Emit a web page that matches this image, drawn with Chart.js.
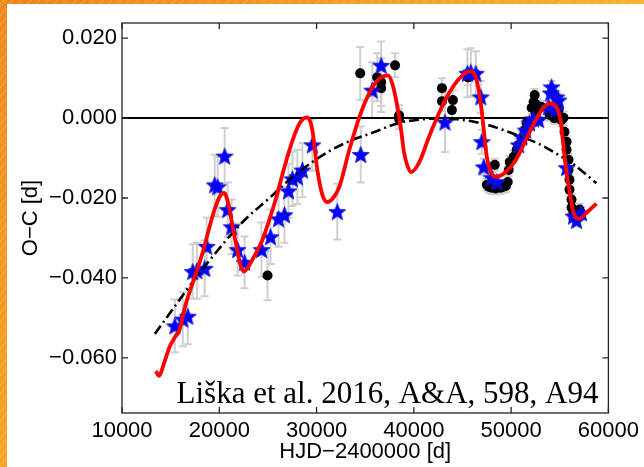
<!DOCTYPE html>
<html>
<head>
<meta charset="utf-8">
<script src="https://cdn.jsdelivr.net/npm/chart.js@4.4.1/dist/chart.umd.min.js"></script>
<style>
  html, body { margin: 0; padding: 0; background: #fff; }
  canvas { display: block; }
</style>
</head>
<body>
<canvas id="c" width="644" height="467"></canvas>
<script>
// ---------- data ----------
const xTickValues = [10000, 20000, 30000, 40000, 50000, 60000];
const xTickLabels = ['10000', '20000', '30000', '40000', '50000', '60000'];
const yTickValues = [-0.06, -0.04, -0.02, 0.0, 0.02];
const yTickLabels = ['\u22120.060', '\u22120.040', '\u22120.020', '0.000', '0.020'];

// blue stars (x, y, error)
const starX = [15430, 16250, 16760, 17270, 17700, 18500, 18710, 19530, 19840, 20553, 20860, 21270, 21885, 22600,
  24340, 25270, 26090, 26700, 27110, 27520, 28030, 28545, 29570, 32130, 34540, 35720, 36640, 43200,
  45500, 45860, 46370, 46880, 46990, 47190, 48010, 48520, 50780, 51090, 51500, 51900, 52300, 52830, 53850, 54060, 54160,
  54570, 54670, 54870, 55700, 56410, 56720, 57230];
const starY = [-0.0520, -0.0503, -0.0496, -0.0384, -0.0382, -0.0376, -0.0321, -0.0167, -0.0172, -0.0095, -0.0229, -0.0272, -0.0329, -0.0361,
  -0.0329, -0.0297, -0.0252, -0.0242, -0.0182, -0.0152, -0.0147, -0.0130, -0.0067, -0.0234, -0.0091, 0.0070, 0.0132, -0.0010,
  0.0112, 0.0115, 0.0112, 0.0053, -0.0059, -0.0122, -0.0149, -0.0159, -0.0067, -0.0047, -0.0030, -0.0012, -0.0002, -0.0004, 0.0028, 0.0063, 0.0078,
  0.0021, 0.0053, 0.0045, -0.0124, -0.0245, -0.0256, -0.0237];
const starErr = [0.0066, 0.0068, 0.0070, 0.0068, 0.0070, 0.0070, 0.0072, 0.0075, 0.0075, 0.0070, 0.0068, 0.0068, 0.0065, 0.0065,
  0.0068, 0.0068, 0.0070, 0.0070, 0.0068, 0.0068, 0.0068, 0.0068, 0.0065, 0.0070, 0.0070, 0.0070, 0.0060, 0.0075,
  0.0060, 0.0060, 0.0055, 0.0040, 0.0030, 0.0020, 0.0015, 0.0015, 0.0015, 0.0015, 0.0015, 0.0015, 0.0015, 0.0015, 0.0015, 0.0015, 0.0015,
  0.0015, 0.0015, 0.0015, 0.0015, 0.0015, 0.0015, 0.0015];

// black dots (x, y, error)
const dotX = [24960, 34490, 36230, 36640, 36640, 38070, 38480, 38480, 42890, 42890, 44020, 43910, 45560,
  47500, 47700, 48000, 48320, 48420, 48700, 48930, 49200, 49450, 49650, 49750, 49860, 50270, 50570, 50780, 51090, 51390, 51600,
  52110, 52320, 52420, 52620, 52520, 53130, 53950, 54360, 54460, 54880, 55180,
  55390, 55490, 55700, 55700, 55900, 55900, 56000, 56000, 56210, 56210, 56410, 56720, 57030, 57130];
const dotY = [-0.0394, 0.0112, 0.0102, 0.0090, 0.0075, 0.0132, 0.0007, -0.0002, 0.0075, 0.0042, 0.0045, 0.0020, 0.0102,
  -0.0167, -0.0172, -0.0174, -0.0117, -0.0176, -0.0173, -0.0174, -0.0172, -0.0170, -0.0160, -0.0130, -0.0110, -0.0097, -0.0080, -0.0067, -0.0050, -0.0030, -0.0012,
  0.0026, 0.0041, 0.0058, 0.0033, 0.0010, 0.0028, 0.0008, 0.0003, 0.0000, 0.0020, -0.0005,
  0.0001, -0.0034, -0.0059, -0.0079, -0.0104, -0.0129, -0.0154, -0.0179, -0.0204, -0.0224, -0.0237, -0.0237, -0.0229, -0.0237];
const dotErr = [0.0062, 0.0066, 0.0060, 0.0060, 0.0060, 0.0030, 0.0025, 0.0025, 0.0025, 0.0025, 0.0025, 0.0025, 0.0020,
  0.0015, 0.0015, 0.0015, 0.0015, 0.0015, 0.0015, 0.0015, 0.0015, 0.0015, 0.0015, 0.0015, 0.0015, 0.0015, 0.0015, 0.0015, 0.0015, 0.0015, 0.0015,
  0.0015, 0.0015, 0.0015, 0.0015, 0.0015, 0.0015, 0.0015, 0.0015, 0.0015, 0.0015, 0.0015,
  0.0015, 0.0015, 0.0015, 0.0015, 0.0015, 0.0015, 0.0015, 0.0015, 0.0015, 0.0015, 0.0015, 0.0015, 0.0015, 0.0015];

// red fitted curve
const fitX = [13480, 13800, 14300, 14900, 15400, 15940, 16500, 17000, 17500, 17990, 18500, 19020, 19500, 20040, 20500,
  20900, 21400, 21800, 22150, 22500, 22900, 23500, 24450, 25200, 25880, 26500, 27210, 27930, 28500, 29060,
  29570, 30080, 30600, 31100, 31700, 32340, 33360, 34390, 35410, 36430, 37360, 37800, 38180, 38690, 39000,
  39350, 39710, 40530, 41560, 42580, 43610, 44630, 45760, 46370, 46880, 47190, 47500, 47910, 48420, 49450,
  50470, 51500, 52520, 53340, 54060, 54670, 55080, 55390, 55700, 56100, 56410, 56930, 57750, 58770];
const fitY = [-0.0633, -0.0645, -0.0615, -0.0572, -0.0550, -0.0528, -0.0470, -0.0432, -0.0395, -0.0360, -0.0318, -0.0270, -0.0230, -0.0197, -0.0187,
  -0.0212, -0.0275, -0.0325, -0.0365, -0.0384, -0.0375, -0.0350, -0.0304, -0.0250, -0.0197, -0.0140, -0.0080, -0.0030, -0.0005, 0.0002,
  -0.0030, -0.0130, -0.0192, -0.0210, -0.0200, -0.0172, -0.0080, 0.0002, 0.0062, 0.0098, 0.0107, 0.0085, 0.0045, -0.0030, -0.0087,
  -0.0120, -0.0135, -0.0112, -0.0047, 0.0012, 0.0062, 0.0098, 0.0117, 0.0102, 0.0037, -0.0030, -0.0097, -0.0135, -0.0147, -0.0135,
  -0.0105, -0.0055, -0.0005, 0.0027, 0.0037, 0.0027, -0.0005, -0.0072, -0.0137, -0.0197, -0.0237, -0.0252, -0.0237, -0.0214];

// black dash-dot curve
const quadX = [13380, 16970, 19700, 22400, 25160, 27500, 29570, 31500, 33360, 35720, 38480, 40500, 42580, 44500,
  45960, 47700, 49450, 51200, 52830, 54600, 56210, 57500, 58770];
const quadY = [-0.0540, -0.0420, -0.0335, -0.0260, -0.0200, -0.0148, -0.0110, -0.0080, -0.0058, -0.0037, -0.0012, -0.0004, -0.0001, -0.0003,
  -0.0008, -0.0018, -0.0032, -0.0048, -0.0064, -0.0088, -0.0112, -0.0137, -0.0163];

// horizontal zero line
const zeroX = [10000, 60000];
const zeroY = [0, 0];

const noteText = 'Liška et al. 2016, A&A, 598, A94';
const xTitle = 'HJD\u22122400000 [d]';
const yTitle = 'O\u2212C [d]';

// ---------- helpers ----------
const pts = (xs, ys) => xs.map((x, i) => ({ x: x, y: ys[i] }));

function makeStar(r, ir, fill, stroke) {
  const s = Math.ceil(2 * r + 3);
  const c = document.createElement('canvas');
  c.width = s; c.height = s;
  const g = c.getContext('2d');
  const cx = s / 2, cy = s / 2 + r * 0.1;
  g.beginPath();
  for (let i = 0; i < 10; i++) {
    const a = -Math.PI / 2 + i * Math.PI / 5;
    const rad = (i % 2 === 0) ? r : ir;
    const px = cx + rad * Math.cos(a), py = cy + rad * Math.sin(a);
    if (i === 0) g.moveTo(px, py); else g.lineTo(px, py);
  }
  g.closePath();
  g.fillStyle = fill; g.fill();
  g.lineWidth = 0.8; g.strokeStyle = stroke; g.stroke();
  return c;
}
const starImg = makeStar(9, 3.9, '#0000FF', '#1a1acc');

const FONT = '"Liberation Sans", Arial, Helvetica, sans-serif';

// ---------- plugins ----------
const framePlugin = {
  id: 'frame',
  beforeDraw(chart) {
    const ctx = chart.ctx, W = chart.width, H = chart.height;
    ctx.save();
    ctx.fillStyle = '#ffffff';
    ctx.fillRect(0, 0, W, H);
    // orange slide border (top and left)
    let g = ctx.createLinearGradient(0, 0, W, 0);
    g.addColorStop(0, '#EE8420'); g.addColorStop(1, '#F6B42C');
    ctx.fillStyle = g;
    ctx.fillRect(0, 0, W, 4);
    g = ctx.createLinearGradient(0, 0, 0, H);
    g.addColorStop(0, '#EF8A20'); g.addColorStop(1, '#F4A526');
    ctx.fillStyle = g;
    ctx.fillRect(0, 0, 7, H);
    ctx.strokeStyle = 'rgba(255,220,150,0.45)';
    ctx.lineWidth = 0.7;
    ctx.beginPath();
    for (let y = -10; y < H; y += 9) { ctx.moveTo(0, y + 8); ctx.lineTo(7, y); }
    for (let x = 0; x < W; x += 9) { ctx.moveTo(x, 4); ctx.lineTo(x + 4, 0); }
    ctx.stroke();
    ctx.restore();
  },
  beforeDatasetsDraw(chart) {
    const ctx = chart.ctx, xs = chart.scales.x, ys = chart.scales.y, a = chart.chartArea;
    ctx.save();
    ctx.beginPath(); ctx.rect(a.left, a.top, a.right - a.left, a.bottom - a.top); ctx.clip();
    ctx.strokeStyle = '#CFCFCF';
    ctx.lineWidth = 2;
    const drawBars = (X, Y, E) => {
      X.forEach((x, i) => {
        const px = xs.getPixelForValue(x);
        const p1 = ys.getPixelForValue(Y[i] + E[i]);
        const p2 = ys.getPixelForValue(Y[i] - E[i]);
        ctx.beginPath();
        ctx.moveTo(px, p1); ctx.lineTo(px, p2);
        ctx.moveTo(px - 4, p1); ctx.lineTo(px + 4, p1);
        ctx.moveTo(px - 4, p2); ctx.lineTo(px + 4, p2);
        ctx.stroke();
      });
    };
    drawBars(dotX, dotY, dotErr);
    drawBars(starX, starY, starErr);
    ctx.restore();
  },
  afterDraw(chart) {
    const ctx = chart.ctx, xs = chart.scales.x, ys = chart.scales.y, a = chart.chartArea;
    ctx.save();
    // annotation text
    ctx.fillStyle = '#000';
    ctx.font = '31px "Liberation Serif", "Times New Roman", serif';
    ctx.textAlign = 'right';
    ctx.textBaseline = 'alphabetic';
    ctx.fillText(noteText, a.right - 10, a.bottom - 10);
    // box and inward ticks
    ctx.strokeStyle = '#262626';
    ctx.lineWidth = 1.3;
    ctx.strokeRect(a.left, a.top, a.right - a.left, a.bottom - a.top);
    ctx.beginPath();
    const tl = 6;
    xTickValues.forEach(v => {
      const px = xs.getPixelForValue(v);
      ctx.moveTo(px, a.bottom); ctx.lineTo(px, a.bottom - tl);
      ctx.moveTo(px, a.top); ctx.lineTo(px, a.top + tl);
    });
    yTickValues.forEach(v => {
      const py = ys.getPixelForValue(v);
      ctx.moveTo(a.left, py); ctx.lineTo(a.left + tl, py);
      ctx.moveTo(a.right, py); ctx.lineTo(a.right - tl, py);
    });
    ctx.stroke();
    ctx.restore();
  }
};

// ---------- chart ----------
new Chart(document.getElementById('c'), {
  type: 'scatter',
  data: {
    datasets: [
      { label: 'fit', data: pts(fitX, fitY), showLine: true, borderColor: '#FF0000', borderWidth: 3.8,
        pointRadius: 0, cubicInterpolationMode: 'monotone', fill: false },
      { label: 'quad', data: pts(quadX, quadY), showLine: true, borderColor: '#000000', borderWidth: 2.6,
        borderDash: [10, 4, 2, 4], pointRadius: 0, cubicInterpolationMode: 'monotone', fill: false },
      { label: 'stars', data: pts(starX, starY), pointStyle: starImg, pointRadius: 8, showLine: false },
      { label: 'dots', data: pts(dotX, dotY), pointStyle: 'circle', pointRadius: 5,
        backgroundColor: '#000000', borderColor: '#000000', borderWidth: 0, showLine: false },
      { label: 'zero', data: pts(zeroX, zeroY), showLine: true, borderColor: '#000000', borderWidth: 2,
        pointRadius: 0, fill: false }
    ]
  },
  options: {
    responsive: false,
    animation: false,
    devicePixelRatio: 1,
    layout: { padding: { left: 0, top: 23, right: 34, bottom: 0 } },
    plugins: { legend: { display: false }, tooltip: { enabled: false } },
    scales: {
      x: {
        type: 'linear', min: 10000, max: 60000,
        afterBuildTicks: s => { s.ticks = xTickValues.map(v => ({ value: v })); },
        afterFit: s => { s.height = 54; },
        grid: { display: false, drawTicks: false },
        border: { display: false },
        ticks: { callback: (v, i) => xTickLabels[i], color: '#000', font: { family: FONT, size: 22 },
          padding: 5, maxRotation: 0, autoSkip: false },
        title: { display: true, text: xTitle, color: '#000', font: { family: FONT, size: 22 },
          padding: { top: 0, bottom: 2 } }
      },
      y: {
        type: 'linear', min: -0.0738, max: 0.0238,
        afterBuildTicks: s => { s.ticks = yTickValues.map(v => ({ value: v })); },
        afterFit: s => { s.width = 122; },
        grid: { display: false, drawTicks: false },
        border: { display: false },
        ticks: { callback: (v, i) => yTickLabels[i], color: '#000', font: { family: FONT, size: 22 },
          padding: 5, autoSkip: false },
        title: { display: true, text: yTitle, color: '#000', font: { family: FONT, size: 22 },
          padding: { top: 18, bottom: 0 } }
      }
    }
  },
  plugins: [framePlugin]
});
</script>
</body>
</html>
